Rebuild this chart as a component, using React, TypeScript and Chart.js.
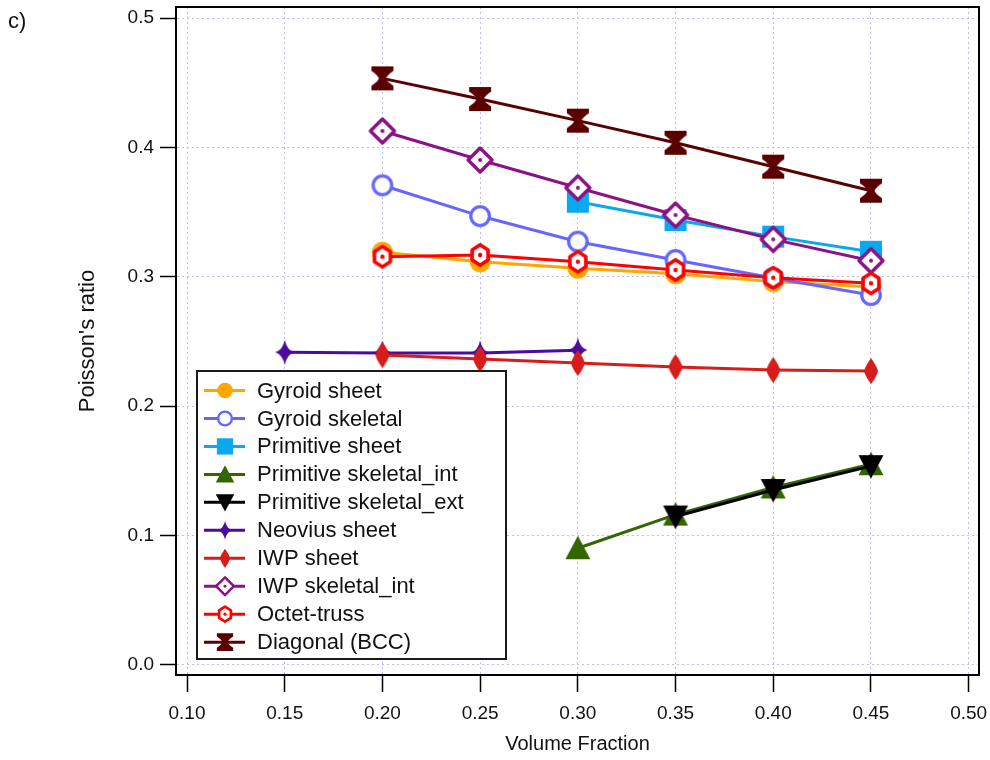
import { useEffect, useRef } from "react";
import { Chart, registerables } from "chart.js";

Chart.register(...registerables);

// ---- data -------------------------------------------------------------
const seriesNames = [
  "Gyroid sheet",
  "Gyroid skeletal",
  "Primitive sheet",
  "Primitive skeletal_int",
  "Primitive skeletal_ext",
  "Neovius sheet",
  "IWP sheet",
  "IWP skeletal_int",
  "Octet-truss",
  "Diagonal (BCC)",
];

const vfGyroidSheet = [0.2, 0.25, 0.3, 0.35, 0.4, 0.45];
const prGyroidSheet = [0.319, 0.3116, 0.3065, 0.3023, 0.2962, 0.292];

const vfGyroidSkeletal = [0.2, 0.25, 0.3, 0.35, 0.4, 0.45];
const prGyroidSkeletal = [0.3707, 0.3469, 0.3271, 0.3129, 0.299, 0.2858];

const vfPrimitiveSheet = [0.3, 0.35, 0.4, 0.45];
const prPrimitiveSheet = [0.358, 0.3439, 0.331, 0.3193];

const vfPrimitiveSkelInt = [0.3, 0.35, 0.4, 0.45];
const prPrimitiveSkelInt = [0.09, 0.116, 0.137, 0.155];

const vfPrimitiveSkelExt = [0.35, 0.4, 0.45];
const prPrimitiveSkelExt = [0.1145, 0.135, 0.1535];

const vfNeoviusSheet = [0.15, 0.2, 0.25, 0.3];
const prNeoviusSheet = [0.2415, 0.241, 0.241, 0.2432];

const vfIwpSheet = [0.2, 0.25, 0.3, 0.35, 0.4, 0.45];
const prIwpSheet = [0.2394, 0.2363, 0.2332, 0.2301, 0.2278, 0.227];

const vfIwpSkelInt = [0.2, 0.25, 0.3, 0.35, 0.4, 0.45];
const prIwpSkelInt = [0.4127, 0.3903, 0.3688, 0.3477, 0.3289, 0.3124];

const vfOctetTruss = [0.2, 0.25, 0.3, 0.35, 0.4, 0.45];
const prOctetTruss = [0.3155, 0.3168, 0.3116, 0.3052, 0.2992, 0.2949];

const vfDiagonalBcc = [0.2, 0.25, 0.3, 0.35, 0.4, 0.45];
const prDiagonalBcc = [0.4534, 0.4374, 0.4207, 0.4036, 0.3851, 0.3665];

const xTickValues = [0.1, 0.15, 0.2, 0.25, 0.3, 0.35, 0.4, 0.45, 0.5];
const yTickValues = [0.0, 0.1, 0.2, 0.3, 0.4, 0.5];

// ---- styling ----------------------------------------------------------
type MarkerKind =
  | "circle"
  | "ring"
  | "square"
  | "triUp"
  | "triDown"
  | "star4"
  | "lens"
  | "diamondDot"
  | "hexDot"
  | "hourglass";

const seriesColors = [
  "#FFA500",
  "#6666FF",
  "#0AA8EE",
  "#336600",
  "#000000",
  "#4B0C9E",
  "#D81C1C",
  "#8C1186",
  "#FF0000",
  "#5A0000",
];

const seriesMarkers: MarkerKind[] = [
  "circle",
  "ring",
  "square",
  "triUp",
  "triDown",
  "star4",
  "lens",
  "diamondDot",
  "hexDot",
  "hourglass",
];

const FONT = '"Liberation Sans", Arial, Helvetica, sans-serif';

function drawMarker(ctx: CanvasRenderingContext2D, kind: MarkerKind, color: string) {
  ctx.save();
  ctx.fillStyle = color;
  ctx.strokeStyle = color;
  ctx.lineJoin = "round";
  ctx.beginPath();
  switch (kind) {
    case "circle":
      ctx.arc(0, 0, 10.5, 0, Math.PI * 2);
      ctx.fill();
      break;
    case "ring":
      ctx.arc(0, 0, 9.3, 0, Math.PI * 2);
      ctx.fillStyle = "#ffffff";
      ctx.fill();
      ctx.lineWidth = 3.2;
      ctx.stroke();
      break;
    case "square":
      ctx.rect(-11, -11, 22, 22);
      ctx.fill();
      break;
    case "triUp":
      ctx.moveTo(0, -12.5);
      ctx.lineTo(12.5, 11);
      ctx.lineTo(-12.5, 11);
      ctx.closePath();
      ctx.fill();
      break;
    case "triDown":
      ctx.moveTo(0, 12.5);
      ctx.lineTo(12.5, -11);
      ctx.lineTo(-12.5, -11);
      ctx.closePath();
      ctx.fill();
      break;
    case "star4":
      ctx.moveTo(0, -12.5);
      ctx.quadraticCurveTo(2.2, -2.2, 9.5, 0);
      ctx.quadraticCurveTo(2.2, 2.2, 0, 12.5);
      ctx.quadraticCurveTo(-2.2, 2.2, -9.5, 0);
      ctx.quadraticCurveTo(-2.2, -2.2, 0, -12.5);
      ctx.closePath();
      ctx.fill();
      break;
    case "lens":
      ctx.moveTo(0, -13);
      ctx.quadraticCurveTo(5.5, -5.5, 7, 0);
      ctx.quadraticCurveTo(5.5, 5.5, 0, 13);
      ctx.quadraticCurveTo(-5.5, 5.5, -7, 0);
      ctx.quadraticCurveTo(-5.5, -5.5, 0, -13);
      ctx.closePath();
      ctx.fill();
      break;
    case "diamondDot":
      ctx.moveTo(0, -12);
      ctx.lineTo(12, 0);
      ctx.lineTo(0, 12);
      ctx.lineTo(-12, 0);
      ctx.closePath();
      ctx.fillStyle = "#ffffff";
      ctx.fill();
      ctx.lineWidth = 3.4;
      ctx.stroke();
      ctx.beginPath();
      ctx.arc(0, 0, 2, 0, Math.PI * 2);
      ctx.fillStyle = color;
      ctx.fill();
      break;
    case "hexDot": {
      for (let k = 0; k < 6; k++) {
        const a = -Math.PI / 2 + (k * Math.PI) / 3;
        const px = 9.2 * Math.cos(a);
        const py = 10.2 * Math.sin(a);
        if (k === 0) ctx.moveTo(px, py);
        else ctx.lineTo(px, py);
      }
      ctx.closePath();
      ctx.fillStyle = "#ffffff";
      ctx.fill();
      ctx.lineWidth = 3.6;
      ctx.stroke();
      ctx.beginPath();
      ctx.arc(0, 0, 2.2, 0, Math.PI * 2);
      ctx.fillStyle = color;
      ctx.fill();
      break;
    }
    case "hourglass":
      ctx.moveTo(-11, -12);
      ctx.lineTo(11, -12);
      ctx.lineTo(11, -7.5);
      ctx.quadraticCurveTo(4.5, -3, 3.5, 0);
      ctx.quadraticCurveTo(4.5, 3, 11, 7.5);
      ctx.lineTo(11, 12);
      ctx.lineTo(-11, 12);
      ctx.lineTo(-11, 7.5);
      ctx.quadraticCurveTo(-4.5, 3, -3.5, 0);
      ctx.quadraticCurveTo(-4.5, -3, -11, -7.5);
      ctx.closePath();
      ctx.fill();
      break;
  }
  ctx.restore();
}

function makeMarkerImage(kind: MarkerKind, color: string): HTMLCanvasElement {
  const c = document.createElement("canvas");
  c.width = 34;
  c.height = 34;
  const ctx = c.getContext("2d") as CanvasRenderingContext2D;
  ctx.translate(17, 17);
  drawMarker(ctx, kind, color);
  return c;
}

// ---- plugins -----------------------------------------------------------
const framePlugin = {
  id: "plotFrame",
  afterDatasetsDraw(chart: any) {
    const { ctx, chartArea } = chart;
    ctx.save();
    ctx.strokeStyle = "#000000";
    ctx.lineWidth = 2;
    ctx.beginPath();
    ctx.moveTo(chartArea.left, chartArea.top);
    ctx.lineTo(chartArea.right, chartArea.top);
    ctx.lineTo(chartArea.right, chartArea.bottom);
    ctx.stroke();
    ctx.restore();
  },
};

const legendBoxPlugin = {
  id: "legendBox",
  afterDraw(chart: any) {
    const ctx: CanvasRenderingContext2D = chart.ctx;
    const left = 197;
    const top = 371;
    const width = 309;
    const height = 288;
    ctx.save();
    ctx.fillStyle = "#ffffff";
    ctx.fillRect(left, top, width, height);
    ctx.strokeStyle = "#1a1a1a";
    ctx.lineWidth = 2;
    ctx.strokeRect(left, top, width, height);

    const rowStart = 390.5;
    const rowStep = 27.96;
    ctx.font = `22px ${FONT}`;
    ctx.textBaseline = "middle";
    ctx.textAlign = "left";
    seriesNames.forEach((name, i) => {
      const y = rowStart + i * rowStep;
      ctx.strokeStyle = seriesColors[i];
      ctx.lineWidth = 3;
      ctx.beginPath();
      ctx.moveTo(204, y);
      ctx.lineTo(245, y);
      ctx.stroke();
      ctx.save();
      ctx.translate(225, y);
      ctx.scale(0.74, 0.74);
      drawMarker(ctx, seriesMarkers[i], seriesColors[i]);
      ctx.restore();
      ctx.fillStyle = "#111111";
      ctx.fillText(name, 257, y + 1);
    });
    ctx.restore();
  },
};

const panelLabelPlugin = {
  id: "panelLabel",
  afterDraw(chart: any) {
    const ctx: CanvasRenderingContext2D = chart.ctx;
    ctx.save();
    ctx.font = `22px ${FONT}`;
    ctx.fillStyle = "#111111";
    ctx.textBaseline = "alphabetic";
    ctx.textAlign = "left";
    ctx.fillText("c)", 8, 28);
    ctx.restore();
  },
};

export default function App() {
  const canvasRef = useRef<HTMLCanvasElement | null>(null);

  useEffect(() => {
    const canvas = canvasRef.current;
    if (!canvas) return;

    const xs = [
      vfGyroidSheet,
      vfGyroidSkeletal,
      vfPrimitiveSheet,
      vfPrimitiveSkelInt,
      vfPrimitiveSkelExt,
      vfNeoviusSheet,
      vfIwpSheet,
      vfIwpSkelInt,
      vfOctetTruss,
      vfDiagonalBcc,
    ];
    const ys = [
      prGyroidSheet,
      prGyroidSkeletal,
      prPrimitiveSheet,
      prPrimitiveSkelInt,
      prPrimitiveSkelExt,
      prNeoviusSheet,
      prIwpSheet,
      prIwpSkelInt,
      prOctetTruss,
      prDiagonalBcc,
    ];

    const datasets = seriesNames.map((name, i) => ({
      label: name,
      data: xs[i].map((x, j) => ({ x, y: ys[i][j] })),
      showLine: true,
      borderColor: seriesColors[i],
      backgroundColor: seriesColors[i],
      borderWidth: 3,
      pointStyle: makeMarkerImage(seriesMarkers[i], seriesColors[i]),
      pointRadius: 11,
      // later series are painted on top
      order: seriesNames.length - i,
    }));

    const gridColor = "#BDBDF7";

    const chart = new Chart(canvas, {
      type: "scatter",
      data: { datasets },
      plugins: [framePlugin, legendBoxPlugin, panelLabelPlugin],
      options: {
        animation: false,
        responsive: false,
        devicePixelRatio: 1,
        layout: { autoPadding: false, padding: { left: 0, top: 7, right: 11, bottom: 0 } },
        plugins: {
          legend: { display: false },
          tooltip: { enabled: false },
        },
        scales: {
          x: {
            type: "linear",
            min: 0.09437,
            max: 0.5053,
            afterBuildTicks: (scale: any) => {
              scale.ticks = xTickValues.map((v) => ({ value: v }));
            },
            afterFit: (scale: any) => {
              scale.height = 85;
              scale.paddingLeft = 0;
              scale.paddingRight = 0;
            },
            ticks: {
              font: { family: FONT, size: 19 },
              color: "#111111",
              padding: 10,
              maxRotation: 0,
              autoSkip: false,
              callback: (v: any) => Number(v).toFixed(2),
            },
            grid: {
              color: gridColor,
              lineWidth: 1,
              tickColor: "#000000",
              tickWidth: 1.5,
              tickLength: 17,
              drawTicks: true,
            },
            border: { display: true, color: "#000000", width: 2, dash: [2, 3] },
            title: {
              display: true,
              text: "Volume Fraction",
              font: { family: FONT, size: 20 },
              color: "#111111",
              padding: { top: 0, bottom: 4 },
            },
          },
          y: {
            type: "linear",
            min: -0.00804,
            max: 0.5086,
            afterBuildTicks: (scale: any) => {
              scale.ticks = yTickValues.map((v) => ({ value: v }));
            },
            afterFit: (scale: any) => {
              scale.width = 176;
              scale.paddingTop = 0;
              scale.paddingBottom = 0;
            },
            ticks: {
              font: { family: FONT, size: 19 },
              color: "#111111",
              padding: 6,
              autoSkip: false,
              callback: (v: any) => Number(v).toFixed(1),
            },
            grid: {
              color: gridColor,
              lineWidth: 1,
              tickColor: "#000000",
              tickWidth: 1.5,
              tickLength: 16,
              drawTicks: true,
            },
            border: { display: true, color: "#000000", width: 2, dash: [2, 3] },
            title: {
              display: true,
              text: "Poisson's ratio",
              font: { family: FONT, size: 22 },
              color: "#111111",
              padding: { top: 75, bottom: 0 },
            },
          },
        },
      },
    } as any);

    return () => {
      chart.destroy();
    };
  }, []);

  return (
    <div style={{ position: "absolute", left: 0, top: 0, width: 990, height: 760, background: "#ffffff" }}>
      <canvas ref={canvasRef} width={990} height={760} style={{ display: "block" }} />
    </div>
  );
}
